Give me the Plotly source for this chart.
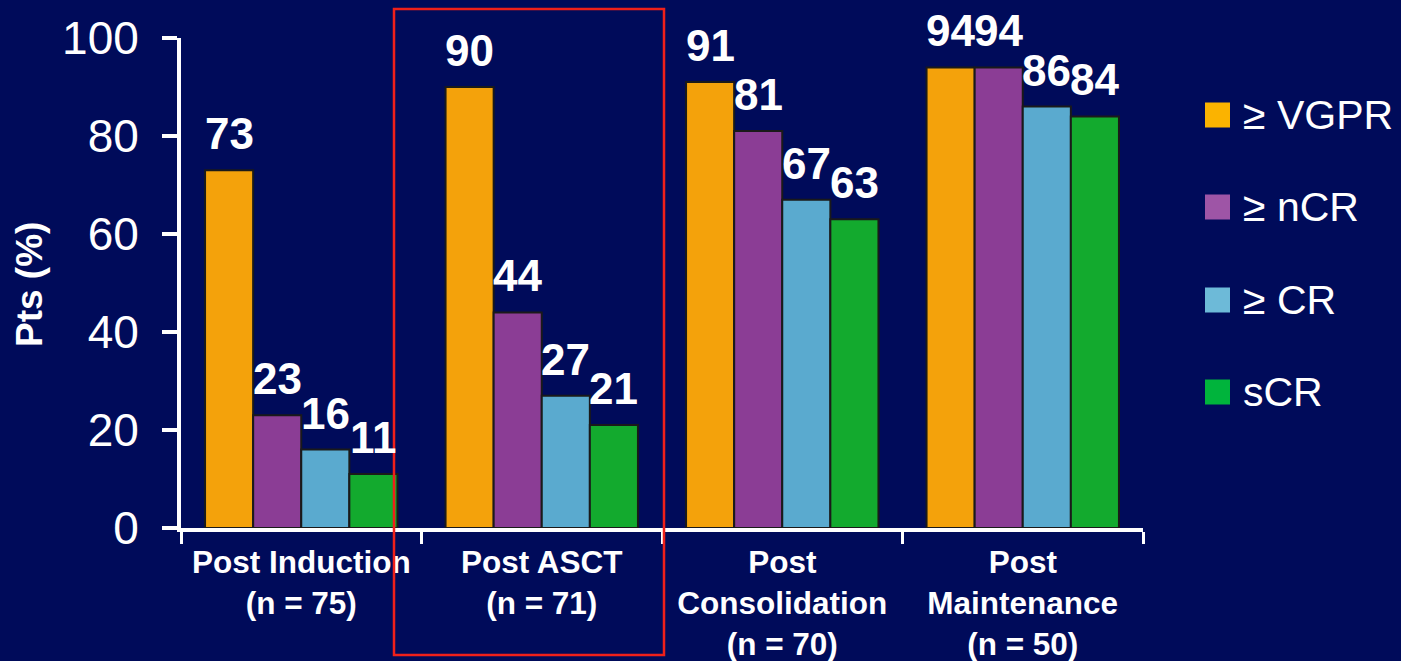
import plotly.graph_objects as go

# Response rates (% of patients) by treatment phase
categories = [
    "Post Induction<br>(n = 75)",
    "Post ASCT<br>(n = 71)",
    "Post<br>Consolidation<br>(n = 70)",
    "Post<br>Maintenance<br>(n = 50)",
]
series_names = ["≥ VGPR", "≥ nCR", "≥ CR", "sCR"]
vgpr = [73, 90, 91, 94]
ncr = [23, 44, 81, 94]
cr = [16, 27, 67, 86]
scr = [11, 21, 63, 84]
y_ticks = [0, 20, 40, 60, 80, 100]

bar_colors = ["#F4A20B", "#8B3D95", "#5AAACF", "#13AA2E"]
key_colors = ["#FBB300", "#9E55A6", "#6DBAD8", "#00B43C"]

BG = "#000B5A"
FONT = "Liberation Sans, Arial, sans-serif"
W, H = 1401, 661
ML, MR, MT, MB = 181, 258, 38, 133
PW, PH = W - ML - MR, H - MT - MB
BARGAP = 0.2

series = [vgpr, ncr, cr, scr]

fig = go.Figure()
for name, vals, col in zip(series_names, series, bar_colors):
    fig.add_trace(go.Bar(
        x=categories, y=vals, name=name,
        marker=dict(color=col, line=dict(color="#1A1A1A", width=2)),
        showlegend=False,
    ))

# value labels above each bar
n = len(series)
slot = (1 - BARGAP) / n
annotations = []
for i, vals in enumerate(series):
    for j, v in enumerate(vals):
        annotations.append(dict(
            x=j + (i - (n - 1) / 2) * slot, y=v, xref="x", yref="y",
            text=str(v), showarrow=False, yanchor="bottom", yshift=10,
            font=dict(family=FONT, size=44, color="white", weight="bold"),
        ))


def px_x(px):
    return (px - ML) / PW


def px_y(py):
    return (MT + PH - py) / PH


# y-axis title
annotations.append(dict(
    x=px_x(29), y=px_y(285), xref="paper", yref="paper",
    text="Pts (%)", textangle=-90, showarrow=False,
    xanchor="center", yanchor="middle",
    font=dict(family=FONT, size=37, color="white", weight="bold"),
))

# key: coloured squares with labels
shapes = []
key_centers = [115, 207, 300, 392]
for name, col, cy in zip(series_names, key_colors, key_centers):
    shapes.append(dict(
        type="rect", xref="paper", yref="paper",
        xsizemode="pixel", ysizemode="pixel",
        xanchor=px_x(1205), yanchor=px_y(cy),
        x0=0, x1=25, y0=-12.5, y1=12.5,
        fillcolor=col, line=dict(width=0),
    ))
    annotations.append(dict(
        x=px_x(1241), y=px_y(cy), xref="paper", yref="paper",
        text=name, showarrow=False, xanchor="left", yanchor="middle",
        font=dict(family=FONT, size=41, color="white"),
    ))

# highlight box around the post-ASCT group
shapes.append(dict(
    type="rect", xref="paper", yref="paper",
    x0=px_x(394), x1=px_x(664), y0=px_y(655), y1=px_y(9),
    line=dict(color="#F0201A", width=2.5), fillcolor="rgba(0,0,0,0)",
))

fig.update_layout(
    width=W, height=H,
    margin=dict(l=ML, r=MR, t=MT, b=MB, autoexpand=False),
    paper_bgcolor=BG, plot_bgcolor=BG,
    barmode="group", bargap=BARGAP, bargroupgap=0,
    font=dict(family=FONT, color="white"),
    annotations=annotations, shapes=shapes,
    xaxis=dict(
        type="category", range=[-0.5, 3.5],
        tickson="boundaries", ticks="outside", ticklen=12, tickwidth=3,
        tickcolor="white", showline=True, linecolor="white", linewidth=4,
        showgrid=False, zeroline=False, ticklabelstandoff=3,
        tickfont=dict(family=FONT, size=31.5, color="white", weight="bold"),
    ),
    yaxis=dict(
        range=[0, 100], tickvals=y_ticks, ticks="outside", ticklen=15,
        tickwidth=4, tickcolor="white", showline=True, linecolor="white",
        linewidth=4, showgrid=False, zeroline=False, ticklabelstandoff=14,
        tickfont=dict(family=FONT, size=46, color="white"),
    ),
)

fig.write_html("out.html")
